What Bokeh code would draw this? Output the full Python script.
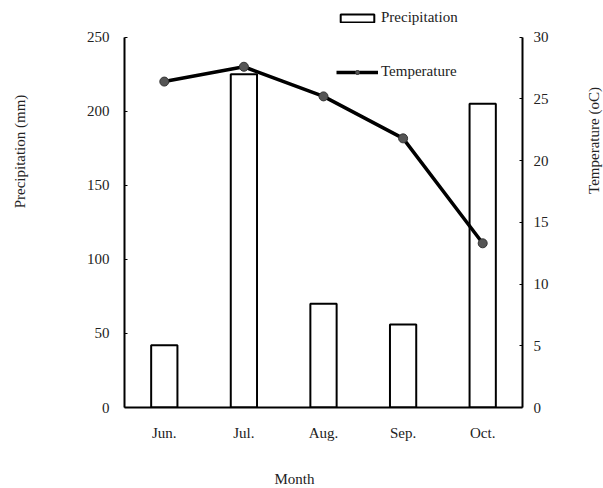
from bokeh.plotting import figure
from bokeh.models import Range1d, LinearAxis, FactorRange, Legend, LegendItem, Label, FixedTicker
from bokeh.embed import file_html
from bokeh.resources import INLINE

months = ["Jun.", "Jul.", "Aug.", "Sep.", "Oct."]
precipitation = [42, 225, 70, 56, 205]
temperature = [26.4, 27.6, 25.2, 21.8, 13.3]
precip_ticks = [0, 50, 100, 150, 200, 250]
temp_ticks = [0, 5, 10, 15, 20, 25, 30]

FONT = "Liberation Serif"
FS = "15px"
TXT = "#222222"

p = figure(x_range=FactorRange(*months, range_padding=0), y_range=Range1d(0, 270),
           width=603, height=488, output_backend="svg", toolbar_location=None,
           min_border_left=124, min_border_top=7, min_border_right=81, min_border_bottom=81)
p.extra_y_ranges = {"temp": Range1d(0, 32.4)}

p.xgrid.visible = False
p.ygrid.visible = False
p.outline_line_color = None
p.background_fill_color = "white"
p.border_fill_color = "white"

bars = p.vbar(x=months, top=precipitation, width=0.33, fill_color="white",
              line_color="black", line_width=2)
line = p.line(x=months, y=temperature, line_color="black", line_width=3.5, y_range_name="temp")
dots = p.scatter(x=months, y=temperature, size=9, fill_color="#555555", line_color="#333333",
                 y_range_name="temp")

# left axis
ax = p.yaxis[0]
ax.ticker = FixedTicker(ticks=precip_ticks)
ax.bounds = (0, 250)
ax.axis_line_width = 2
ax.major_tick_in = 3
ax.major_tick_out = 0
ax.minor_tick_line_color = None
ax.major_label_text_font = FONT
ax.major_label_text_font_size = FS
ax.major_label_text_color = TXT
ax.major_label_standoff = 15

# right axis
rax = LinearAxis(y_range_name="temp", ticker=FixedTicker(ticks=temp_ticks), bounds=(0, 30))
rax.axis_line_width = 2
rax.major_tick_in = 3
rax.major_tick_out = 0
rax.minor_tick_line_color = None
rax.major_label_text_font = FONT
rax.major_label_text_font_size = FS
rax.major_label_text_color = TXT
rax.major_label_standoff = 11
p.add_layout(rax, "right")

# x axis
xa = p.xaxis[0]
xa.axis_line_width = 2
xa.major_tick_line_color = None
xa.minor_tick_line_color = None
xa.major_label_text_font = FONT
xa.major_label_text_font_size = FS
xa.major_label_text_color = TXT
xa.major_label_standoff = 11

# axis titles as labels in side panels
p.add_layout(Label(x=-48, y=256, x_units="screen", y_units="screen", text="Precipitation (mm)",
                   angle=90, angle_units="deg", text_font=FONT, text_font_size=FS,
                   text_color=TXT, text_align="center", text_baseline="middle"), "left")
p.add_layout(Label(x=42, y=267, x_units="screen", y_units="screen", text="Temperature (oC)",
                   angle=90, angle_units="deg", text_font=FONT, text_font_size=FS,
                   text_color=TXT, text_align="center", text_baseline="middle"), "right")
p.add_layout(Label(x=170, y=-19, x_units="screen", y_units="screen", text="Month",
                   text_font=FONT, text_font_size=FS,
                   text_color=TXT, text_align="center", text_baseline="middle"), "below")

legend = Legend(items=[LegendItem(label="Precipitation", renderers=[bars]),
                       LegendItem(label="Temperature", renderers=[line, dots])],
                location=(212, 327), spacing=37, glyph_width=42, glyph_height=10,
                label_text_font=FONT, label_text_font_size=FS, label_text_color=TXT,
                label_standoff=3, border_line_color=None, background_fill_alpha=0,
                padding=0, margin=0)
p.add_layout(legend, "center")

open("out.html", "w").write(file_html(p, INLINE))
